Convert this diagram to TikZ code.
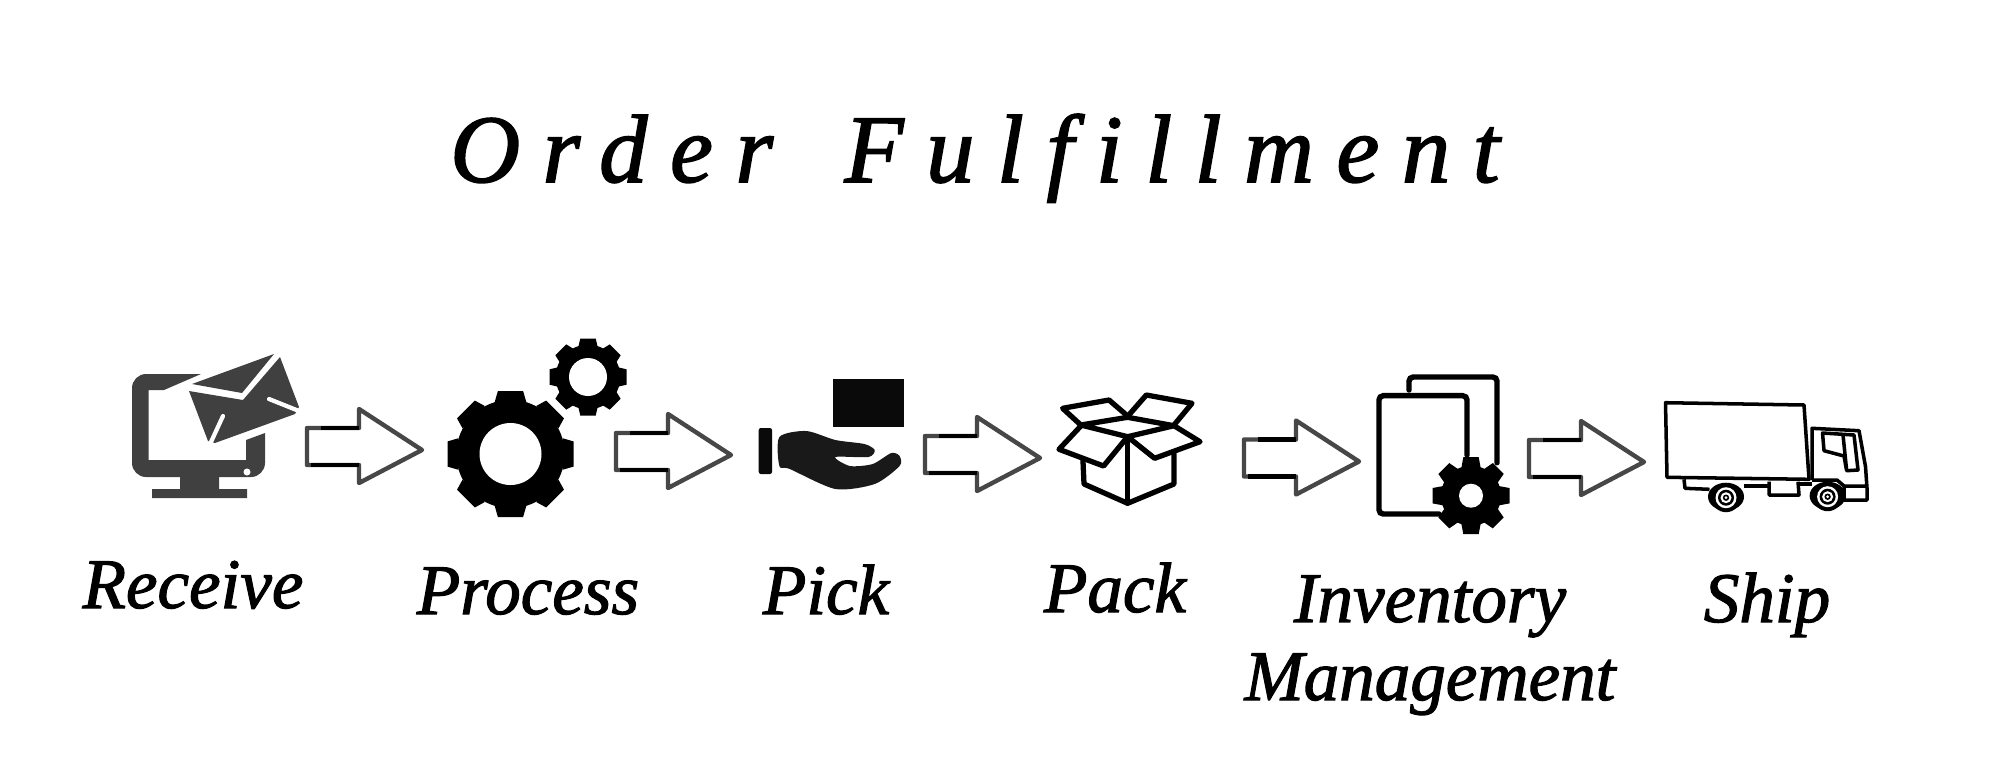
\documentclass[tikz,border=0pt]{standalone}
\usepackage{fontspec}
\setmainfont{Liberation Serif}
\usetikzlibrary{calc}

\begin{document}
\begin{tikzpicture}[
    x=0.01cm, y=-0.01cm,
    titletext/.style={anchor=base, inner sep=0pt, font=\fontsize{27.5pt}{30pt}\selectfont\itshape\addfontfeature{LetterSpace=23.3,FakeBold=1.6}},
    steplabel/.style={anchor=base, inner sep=0pt, align=center, font=\fontsize{20.2pt}{22.2pt}\selectfont\itshape\addfontfeature{FakeBold=1.6}},
    mailpart/.style={fill=black!75},
    boxline/.style={line width=1.5pt, line join=round, line cap=round},
    docline/.style={line width=1.55pt, line cap=round, rounded corners=1.2pt},
    truckline/.style={line width=1pt, line join=round},
    pics/flowarrow/.style={code={
        \draw[line width=1.25pt, draw=black!72, line join=round]
            (0,0) -- (52,0) -- (52,-19) -- (115,22) -- (52,55) -- (52,37) -- (0,37) -- cycle;
        \draw[line width=1.25pt, black] (14,0) -- (52,0) (4,37) -- (52,37);
    }},
    pics/gearicon/.style n args={3}{code={
        \fill (0,0) circle [radius=#1*#2];
        \foreach \a in {0,45,...,315}
            \fill[rotate=\a] (#1*#2-2,-#1*0.25) -- (#1,-#1*0.2) -- (#1,#1*0.2) -- (#1*#2-2,#1*0.25) -- cycle;
        \fill[white] (0,0) circle [radius=#3];
    }}
]
    \useasboundingbox (0,0) rectangle (2000,766);

    % Title
    \node (title) [titletext] at (975,182) {Order\hspace{7pt} Fulfillment};

    % Receive icon
    \fill[mailpart] (201,374) -- (164,390) -- (148.5,390) -- (148.5,460) -- (246,460) -- (246,440) -- (265,433)
        [rounded corners=4pt] -- (265,477) -- (132,477) -- (132,374) [sharp corners] -- cycle;
    \fill[mailpart] (180,477) rectangle (219,489) (152,489) rectangle (247,498);
    \fill[white] (247,472) circle [radius=3.5];
    \fill[mailpart] (274,354) -- (192,384) -- (242,393) -- cycle;
    \fill[mailpart] (189,391) -- (243,400) -- (280,357) -- (299,407) -- (295,414) -- (215,443) -- (208,441) -- cycle;
    \draw[white, line width=1.2pt, line cap=round] (269,399) -- (299,411) (223,416) -- (211,442);

    % Process icon
    \pic at (510.5,454) {gearicon={63}{0.86}{31}};
    \pic at (588,377) {gearicon={38.5}{0.84}{19}};

    % Pick icon
    \fill[black!96, rounded corners=0.6pt] (758.7,428) rectangle (772,474);
    \fill[black!96] (832.5,379) rectangle (904,426.5);
    \fill[black!90] plot[smooth cycle, tension=0.45] coordinates {
        (779.4,437) (806.3,431) (835.4,440) (864.4,444) (874.7,450) (868.5,457) (835.4,457)
        (849.9,466) (872.7,464) (891.3,453) (899.6,456) (899.6,466) (874.7,484) (835.4,489)
        (789.8,469) (779.4,466)};

    % Pack icon
    \draw[boxline] (1080.8,425) -- (1127.6,417.3) -- (1174,425.7) -- (1127.6,436.7) -- cycle;
    \draw[boxline] (1080.8,425) -- (1062.6,408.3) -- (1109,400) -- (1127.6,416);
    \draw[boxline] (1129.7,414) -- (1146.3,395) -- (1192,403.3) -- (1174,425);
    \draw[boxline] (1080.8,426) -- (1059,449.3) -- (1103.6,466) -- (1127.6,436.7);
    \draw[boxline] (1127.6,436.7) -- (1154.6,458.3) -- (1200,441.7) -- (1174,425.7);
    \draw[boxline] (1082.9,459.3) -- (1084,484) -- (1127.6,503.3) -- (1174,484) -- (1174,454);
    \draw[boxline] (1127.6,436.7) -- (1127.6,503.3);

    % Inventory icon
    \draw[docline] (1467,455) -- (1467,395.7) -- (1379,395.7) -- (1379,514) -- (1439,514);
    \draw[docline] (1409,390) -- (1409,377) -- (1497,377) -- (1497,462.7);
    \pic at (1471,495.7) {gearicon={38.5}{0.78}{12}};

    % Ship icon
    \draw[truckline] (1665.5,402.7) -- (1804,405) -- (1809,479.3) -- (1667,477.3) -- cycle;
    \draw[truckline] (1812,480) -- (1812,428.3) -- (1859,430.7) -- (1865.5,466.7) -- (1867,488.3)
        -- (1867,500) -- (1844,500) -- (1844,486) -- (1867,486);
    \draw[truckline] (1844,486) -- (1837,480) -- (1812,480);
    \draw[truckline] (1822.5,433) -- (1854,435) -- (1858,470) -- (1846.6,470.7) -- (1844,456)
        -- (1824,450.7) -- cycle (1843,435) -- (1846.6,470);
    \draw[truckline] (1684,479.3) -- (1685,488.3) -- (1709.5,489.3);
    \draw[truckline] (1744,486) -- (1769,486) (1799,484) -- (1812,484);
    \draw[truckline] (1769,481.7) -- (1769,495) -- (1799,495) -- (1798,481.7);
    \foreach \wx/\wy in {1726/497.7, 1827.6/496.7} {
        \fill[black] (\wx,\wy-1) ellipse [x radius=18, y radius=14];
        \fill[black] (\wx,\wy) circle [radius=14.5];
        \fill[white] (\wx,\wy) circle [radius=10.5];
        \fill[black] (\wx,\wy) circle [radius=8];
        \fill[white] (\wx,\wy) circle [radius=5.5];
        \fill[black] (\wx,\wy) circle [radius=3.2];
        \fill[white] (\wx,\wy) circle [radius=1.5];
    }

    % Arrows
    \pic (toprocess) at (307,428) {flowarrow};
    \pic (topick) at (616,433) {flowarrow};
    \pic (topack) at (925,436) {flowarrow};
    \pic (toinventory) at (1244,439.5) {flowarrow};
    \pic (toship) at (1529,440) {flowarrow};

    % Labels
    \node (receive) [steplabel] at (193,608) {Receive};
    \node (process) [steplabel] at (528,614) {Process};
    \node (pick) [steplabel] at (826,614) {Pick};
    \node (pack) [steplabel] at (1115,612) {Pack};
    \node (inventory) [steplabel] at (1430,700) {Inventory\\Management};
    \node (ship) [steplabel] at (1767,622) {Ship};

\end{tikzpicture}
\end{document}
